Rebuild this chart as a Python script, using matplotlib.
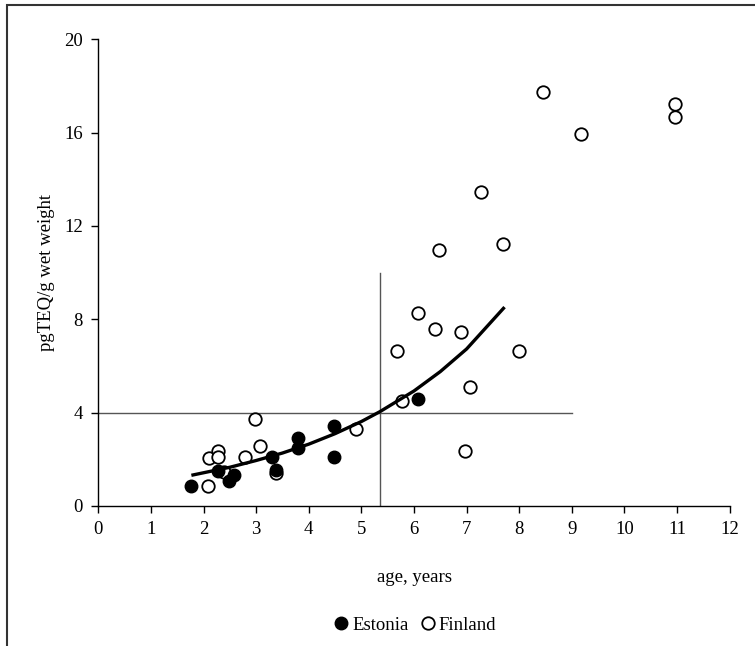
import matplotlib
matplotlib.use("Agg")
import matplotlib.pyplot as plt
from matplotlib.lines import Line2D
from matplotlib.patches import Rectangle

plt.rcParams['font.family'] = ['Liberation Serif', 'DejaVu Serif']

# Estonia (filled)
est_age = [1.77, 2.28, 2.48, 2.58, 3.30, 3.38, 3.80, 3.80, 4.48, 4.48, 6.08]
est_teq = [0.87, 1.50, 1.08, 1.33, 2.09, 1.54, 2.90, 2.50, 3.43, 2.09, 4.58]

# Finland (open)
fin_age = [2.09, 2.10, 2.27, 2.27, 2.39, 2.79, 2.98, 3.08, 3.38, 4.89,
           5.78, 5.67, 6.08, 6.39, 6.89, 7.99, 7.06, 6.97,
           6.47, 7.28, 7.69, 8.46, 9.17, 10.96, 10.96]
fin_teq = [0.87, 2.04, 2.36, 2.09, 1.47, 2.09, 3.71, 2.57, 1.40, 3.28,
           4.51, 6.66, 8.28, 7.60, 7.47, 6.66, 5.11, 2.36,
           10.95, 13.44, 11.24, 17.75, 15.94, 17.22, 16.68]

# Trend curve
trend_age = [1.8, 2.5, 3.0, 3.5, 4.0, 4.5, 5.0, 5.35, 6.0, 6.5, 7.0, 7.7]
trend_teq = [1.33, 1.66, 1.95, 2.27, 2.65, 3.10, 3.62, 4.04, 4.93, 5.76, 6.73, 8.47]

# Reference lines
vline_x = 5.35
vline_top = 10
hline_y = 4
hline_xmax = 9

x_ticks = list(range(0, 13))
y_ticks = [0, 4, 8, 12, 16, 20]

W, H = 755, 646
fig = plt.figure(figsize=(W / 100, H / 100), dpi=100)
ax = fig.add_axes([98.3 / W, 1 - 506 / H, (729.7 - 98.3) / W, (506 - 39.3) / H])

ax.plot([vline_x, vline_x], [0, vline_top], color='#555555', lw=1.0, zorder=1)
ax.plot([0, hline_xmax], [hline_y, hline_y], color='#555555', lw=1.0, zorder=1)

ax.plot(fin_age, fin_teq, 'o', ms=9, mfc='white', mec='black', mew=1.3,
        ls='none', zorder=3)
ax.plot(est_age, est_teq, 'o', ms=9, mfc='black', mec='black', mew=1.0,
        ls='none', zorder=4)
ax.plot(trend_age, trend_teq, color='black', lw=2.4, zorder=5)

ax.set_xlim(0, 12)
ax.set_ylim(0, 20)
ax.set_xticks(x_ticks)
ax.set_yticks(y_ticks)
ax.spines['top'].set_visible(False)
ax.spines['right'].set_visible(False)
for s in ('left', 'bottom'):
    ax.spines[s].set_linewidth(1.0)
ax.tick_params(direction='out', length=5, width=1.0, labelsize=13.5, pad=6)

ax.set_xlabel('age, years', fontsize=13.5, labelpad=22)
ax.set_ylabel('pgTEQ/g wet weight', fontsize=13.5, labelpad=7)

handles = [
    Line2D([], [], marker='o', ls='none', ms=9, mfc='black', mec='black'),
    Line2D([], [], marker='o', ls='none', ms=9, mfc='white', mec='black', mew=1.3),
]
fig.legend(handles, ['Estonia', 'Finland'], loc='center',
           bbox_to_anchor=(414 / W, 1 - 625 / H), ncol=2, frameon=False,
           fontsize=13.5, handletextpad=0.1, columnspacing=0.5, handlelength=1.0)

fig.patches.append(Rectangle((7 / W, -0.1), 1.2, 1.1 - 4.5 / H,
                             transform=fig.transFigure, fill=False,
                             edgecolor='#333333', lw=1.5))

fig.savefig('out.png', dpi=100)
